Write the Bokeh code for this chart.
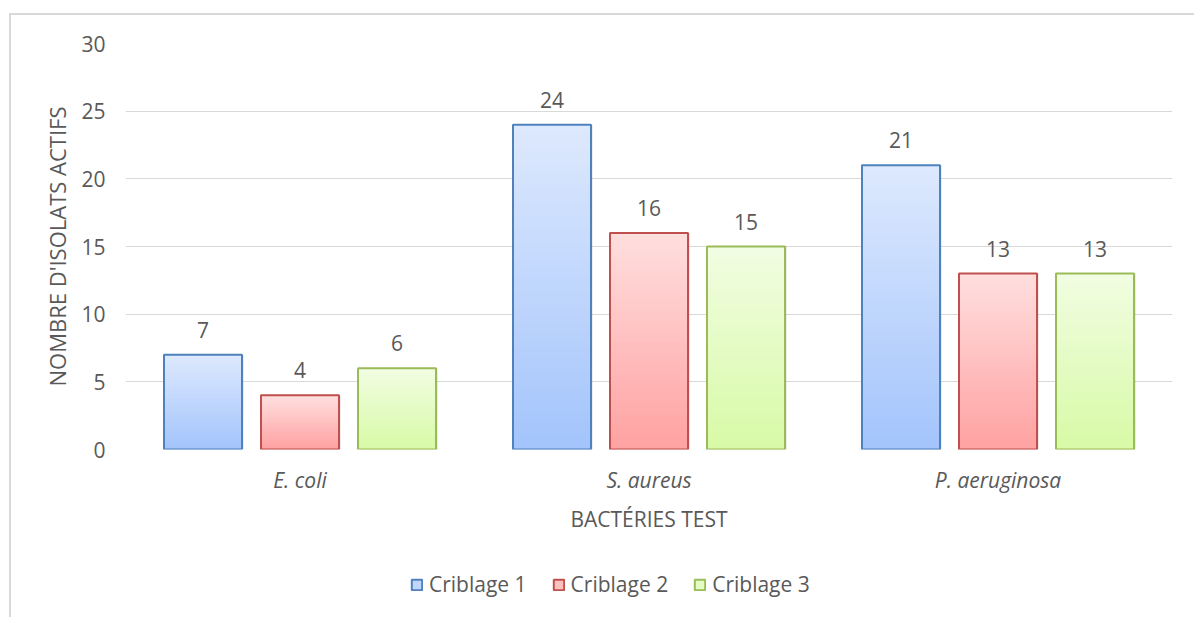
import numpy as np
from bokeh.plotting import figure
from bokeh.layouts import column
from bokeh.models import (ColumnDataSource, FactorRange, Range1d, Legend, LegendItem,
                          SingleIntervalTicker)
from bokeh.transform import dodge
from bokeh.core.properties import value
from bokeh.embed import file_html
from bokeh.resources import INLINE

# --- data -------------------------------------------------------------
bacteria = ["E. coli", "S. aureus", "P. aeruginosa"]
series = ["Criblage 1", "Criblage 2", "Criblage 3"]
criblage_1 = [7, 24, 21]
criblage_2 = [4, 16, 13]
criblage_3 = [6, 15, 13]
values = [criblage_1, criblage_2, criblage_3]

# --- style ------------------------------------------------------------
FONT = "Open Sans"
TEXT = "#595959"
GRID = "#d9d9d9"
edge_colors = ["#4f81bd", "#c0504d", "#9bbb59"]
# gradient: (bottom colour, top colour)
grad = [((163, 196, 252), (221, 233, 253)),
        ((255, 161, 161), (255, 223, 223)),
        ((216, 250, 166), (241, 253, 226))]
offsets = [-0.278, 0.0, 0.278]
BAR_W = 0.2235
N_STRIPS = 60


def hexcol(c):
    return "#%02x%02x%02x" % tuple(int(round(v)) for v in c)


p = figure(x_range=FactorRange(*bacteria, range_padding=0), y_range=Range1d(0, 30),
           width=1183, height=532, output_backend="svg", toolbar_location=None,
           min_border_left=114, min_border_right=22, min_border_top=28, min_border_bottom=98,
           outline_line_color=None, background_fill_color="white", border_fill_color="white")

p.xgrid.grid_line_color = None
p.ygrid.grid_line_color = GRID
p.ygrid.grid_line_width = 1

# separate strip underneath that carries the legend (its frame lines up with the chart's)
leg_fig = figure(width=1183, height=70, output_backend="svg", toolbar_location=None,
                 x_range=Range1d(0, 1), y_range=Range1d(0, 1),
                 x_axis_location=None, y_axis_location=None,
                 min_border_left=0, min_border_right=0, min_border_top=0, min_border_bottom=0,
                 outline_line_color=None, background_fill_color="white", border_fill_color="white")
leg_fig.xgrid.grid_line_color = None
leg_fig.ygrid.grid_line_color = None

legend_items = []
for s, (name, vals, off, edge, (c0, c1)) in enumerate(zip(series, values, offsets, edge_colors, grad)):
    # soft drop shadow
    shadow = ColumnDataSource(dict(cat=bacteria, top=vals))
    p.vbar(x=dodge("cat", off + 0.005, range=p.x_range), top="top", bottom=-0.12, width=BAR_W,
           source=shadow, fill_color="black", fill_alpha=0.10, line_color=None)

    # gradient fill: each strip runs from its own bottom to the bar top, later
    # strips paint over earlier ones so no seams show
    cats, bots, tops, cols = [], [], [], []
    for cat, v in zip(bacteria, vals):
        for k in range(N_STRIPS):
            t = (k + 0.5) / N_STRIPS
            cats.append(cat)
            bots.append(v * k / N_STRIPS)
            tops.append(v)
            cols.append(hexcol([a + (b - a) * t for a, b in zip(c0, c1)]))
    strips = ColumnDataSource(dict(cat=cats, bottom=bots, top=tops, color=cols))
    p.vbar(x=dodge("cat", off, range=p.x_range), top="top", bottom="bottom", width=BAR_W,
           source=strips, fill_color="color", line_color=None)

    # outline
    src = ColumnDataSource(dict(cat=bacteria, top=vals, label=[str(v) for v in vals]))
    p.vbar(x=dodge("cat", off, range=p.x_range), top="top", bottom=0, width=BAR_W,
           source=src, fill_color=None, line_color=edge, line_width=2)

    # value labels
    p.text(x=dodge("cat", off, range=p.x_range), y="top", text="label", source=src,
           text_font=value(FONT), text_font_size="21px", text_color=TEXT,
           text_align="center", text_baseline="middle", y_offset=-25)

    # legend swatch: a renderer with one undefined point, so only its legend entry shows
    mid = hexcol([(a + b) / 2 for a, b in zip(c0, c1)])
    swatch_src = ColumnDataSource(dict(x=np.array([np.nan]), top=np.array([np.nan])))
    swatch = leg_fig.vbar(x="x", top="top", bottom=0, width=0.1, source=swatch_src,
                          fill_color=mid, line_color=edge, line_width=2)
    legend_items.append(LegendItem(label=name, renderers=[swatch]))

legend = Legend(items=legend_items, orientation="horizontal", location=(285, 19),
                glyph_width=13, glyph_height=13, label_standoff=6, spacing=25,
                padding=0, margin=0, border_line_color=None, background_fill_alpha=0,
                label_text_font=FONT, label_text_font_size="21px", label_text_color=TEXT)
leg_fig.add_layout(legend, "center")

# axes
p.yaxis.ticker = SingleIntervalTicker(interval=5)
for ax in (p.xaxis, p.yaxis):
    ax.axis_line_color = None
    ax.major_tick_line_color = None
    ax.minor_tick_line_color = None
    ax.major_tick_out = 0
    ax.major_tick_in = 0
    ax.major_label_text_font = FONT
    ax.major_label_text_font_size = "21px"
    ax.major_label_text_color = TEXT
    ax.axis_label_text_font = FONT
    ax.axis_label_text_font_size = "21px"
    ax.axis_label_text_color = TEXT
    ax.axis_label_text_font_style = "normal"

p.yaxis.axis_label = "NOMBRE D'ISOLATS ACTIFS"
p.yaxis.axis_label_text_font_size = "22px"
p.yaxis.major_label_standoff = 16
p.yaxis.axis_label_standoff = 6
p.xaxis.axis_label = "BACTÉRIES TEST"
p.xaxis.major_label_text_font_style = "italic"
p.xaxis.major_label_standoff = 16
p.xaxis.axis_label_standoff = 8

layout = column(p, leg_fig, spacing=0, margin=(13, 0, 0, 9),
                styles={"border-left": "2px solid #d9d9d9", "border-top": "2px solid #d9d9d9"})

open("out.html", "w").write(file_html(layout, INLINE))
